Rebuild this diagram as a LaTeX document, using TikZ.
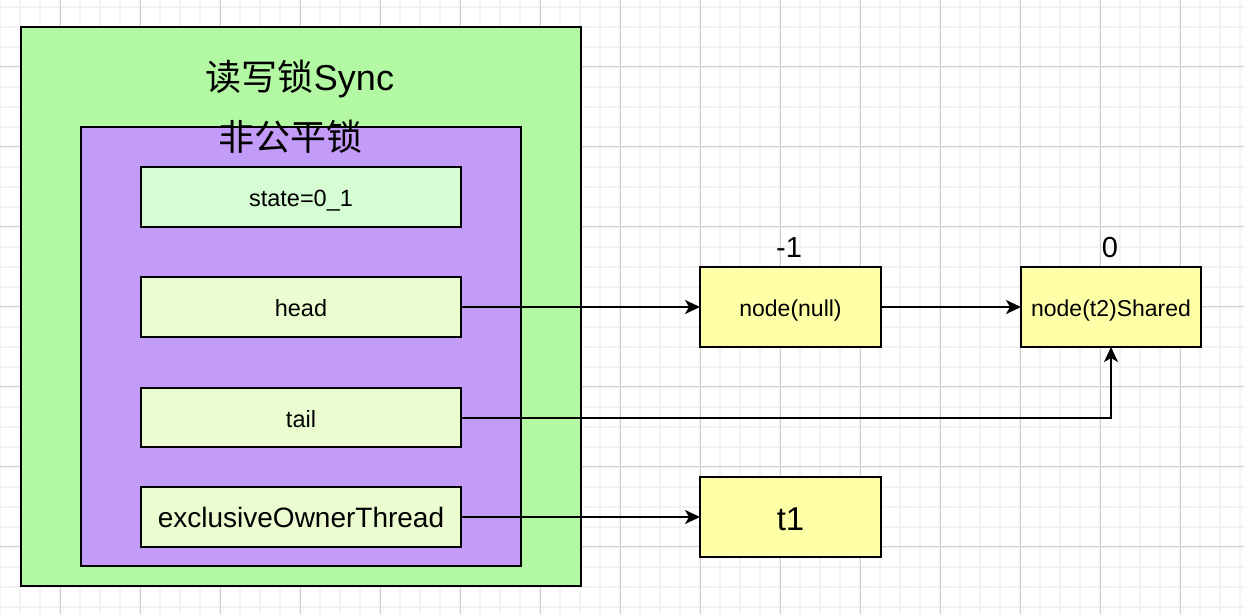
\documentclass[tikz,border=0pt]{standalone}
\usepackage{fontspec}
\setmainfont{Liberation Sans}
\newfontfamily\cjk{Noto Sans CJK SC}
\usetikzlibrary{arrows.meta}
\definecolor{gridminor}{HTML}{F2F2F2}
\definecolor{gridmajor}{HTML}{D0D0D0}
\definecolor{syncgreen}{HTML}{B3F9A3}
\definecolor{lockpurple}{HTML}{C39BF8}
\definecolor{stategreen}{HTML}{D5FCD3}
\definecolor{fieldgreen}{HTML}{EAFCD0}
\definecolor{nodeyellow}{HTML}{FFFFA8}
\begin{document}
\begin{tikzpicture}[x=1pt,y=-1pt,
  box/.style={draw=black, line width=2pt, inner sep=0pt, outer sep=0pt, text height=19pt, text depth=0pt},
  field/.style={box, fill=fieldgreen, minimum width=320pt, minimum height=60pt, font=\fontsize{23.5}{26}\selectfont},
  qnode/.style={box, fill=nodeyellow, minimum width=181pt, minimum height=80pt, font=\fontsize{23}{26}\selectfont},
  idx/.style={inner sep=0pt, font=\fontsize{29}{32}\selectfont},
  conn/.style={draw=black, line width=2pt, -{Stealth[length=15pt,width=14pt,inset=4pt]}}
]
\useasboundingbox (0,0) rectangle (1244,614);
\fill[white] (0,0) rectangle (1244,614);
% grid
\foreach \gx in {0,20,...,1240} \draw[gridminor, line width=2pt] (\gx,0) -- (\gx,614);
\foreach \gy in {6.5,26.5,...,614} \draw[gridminor, line width=2pt] (0,\gy) -- (1244,\gy);
\foreach \gx in {60,140,...,1240} \draw[gridmajor, line width=1pt] (\gx,0) -- (\gx,614);
\foreach \gy in {66.5,146.5,...,614} \draw[gridmajor, line width=1pt] (0,\gy) -- (1244,\gy);

% containers
\node[box, fill=syncgreen, minimum width=560pt, minimum height=559pt] (sync) at (301,306.5) {};
\node[anchor=base, inner sep=0pt, font=\fontsize{36}{40}\selectfont] (synctitle) at (300,90.5) {{\cjk 读写锁}Sync};
\node[box, fill=lockpurple, minimum width=440pt, minimum height=439pt] (nonfair) at (301,346.5) {};
\node[anchor=base, inner sep=0pt, font=\fontsize{36}{40}\selectfont\cjk] (nonfairtitle) at (290.5,150.5) {非公平锁};

% fields
\node[field, fill=stategreen] (state) at (301,197) {state=0\_1};
\node[field] (head) at (301,307) {head};
\node[field, minimum height=59pt] (tail) at (301,417.5) {tail};
\node[field, font=\fontsize{28}{32}\selectfont, text height=20.6pt] (excl) at (301,517) {exclusiveOwnerThread};

% queue nodes
\node[qnode] (nnull) at (790.5,307) {node(null)};
\node[qnode, minimum width=180pt] (nt2) at (1111,307) {node(t2)Shared};
\node[qnode, font=\fontsize{33}{36}\selectfont, text height=26pt] (t1) at (790.5,517) {t1};
\node[idx] (lnull) at (789,248) {-1};
\node[idx] (lt2) at (1110,248) {0};

% connectors
\draw[conn] (head.east) -- (nnull.west);
\draw[conn] (nnull.east) -- (nt2.west);
\draw[conn] (tail.east) -| (nt2.south);
\draw[conn] (excl.east) -- (t1.west);
\end{tikzpicture}
\end{document}
